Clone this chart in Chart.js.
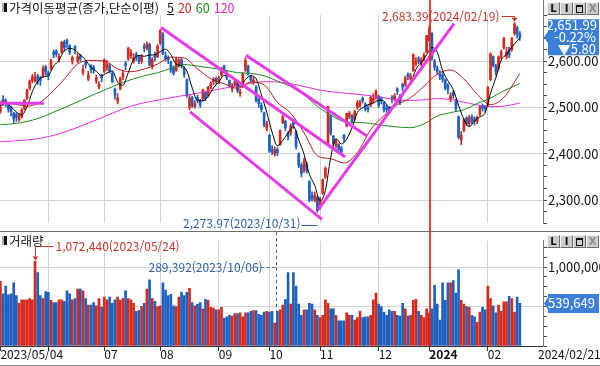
<!DOCTYPE html>
<html lang="ko">
<head>
<meta charset="utf-8">
<title>가격이동평균 / 거래량</title>
<script src="https://cdn.jsdelivr.net/npm/chart.js@4.4.1/dist/chart.umd.min.js"></script>
<style>
  html,body{margin:0;padding:0;background:#fff;}
  #wrap{position:relative;width:600px;height:366px;overflow:hidden;background:#fff;font-family:"Noto Sans CJK KR","Noto Sans",sans-serif;color:#111;}
  canvas{position:absolute;left:0;display:block;}
  #c1{top:0;}
  #c2{top:232px;}
  .hline{position:absolute;left:0;width:600px;height:1px;background:#6e6e6e;}
  .hdr{position:absolute;font-size:12.5px;line-height:15px;white-space:nowrap;}
  .ico{position:absolute;width:3px;height:9px;background:#111;border-left:2px solid #b0b0b0;}
  .btns{position:absolute;left:547px;display:flex;}
  .btn{width:11px;height:11px;border:1px solid #6a6a6a;border-top-color:#f2f2f2;border-left-color:#f2f2f2;background:#cdcdcd;font:bold 10px/11px "DejaVu Sans",sans-serif;text-align:center;color:#111;position:relative;}
  .btn .sq{position:absolute;left:2px;top:2px;width:5px;height:5px;border:1px solid #111;border-top-width:2px;}
  .lbl{position:absolute;font-size:12px;line-height:14px;white-space:nowrap;color:#111;}
  #yearLine{position:absolute;top:0;width:2px;height:346px;background:#e0231a;opacity:0.85;}
</style>
</head>
<body>
<div id="wrap">
  <canvas id="c1" width="600" height="232"></canvas>
  <canvas id="c2" width="600" height="134"></canvas>
  <div class="hline" style="top:231px"></div>
  <div class="hline" style="top:365px;background:#8a8a8a"></div>
  <div id="yearLine"></div>

  <div class="ico" style="left:2px;top:3px"></div>
  <div class="hdr" style="left:9px;top:0px">가격이동평균(종가,단순이평)<span style="margin-left:8px;text-decoration:underline">5</span><span style="margin-left:4px;color:#d2231b">20</span><span style="margin-left:4px;color:#168a16">60</span><span style="margin-left:4px;color:#d624d6">120</span></div>

  <div class="ico" style="left:2px;top:236px"></div>
  <div class="hdr" style="left:9px;top:233px">거래량</div>

  <div class="btns" style="top:2px"><div class="btn">L</div><div class="btn">I</div><div class="btn"><div class="sq"></div></div><div class="btn" style="color:#8a8a8a">X</div></div>
  <div class="btns" style="top:235px"><div class="btn">L</div><div class="btn">I</div><div class="btn"><div class="sq"></div></div><div class="btn" style="color:#8a8a8a">X</div></div>

  <div class="lbl" id="lastDate" style="left:538px;top:347px"></div>
</div>
<script>
// ---------------- DATA ----------------
const opens = [2492,2518,2515,2507,2499,2488,2485,2474,2480,2498,
2520,2542,2558,2559,2568,2565,2568,2588,2575,2584,
2620,2622,2603,2620,2641,2645,2634,2600,2632,2601,
2612,2576,2598,2562,2590,2587,2558,2545,2570,2578,
2586,2590,2574,2540,2514,2540,2566,2596,2605,2612,
2600,2615,2610,2600,2633,2628,2636,2588,2614,2610,
2640,2660,2612,2608,2598,2585,2580,2594,2604,2585,
2560,2500,2522,2502,2522,2514,2518,2532,2526,2545,
2556,2563,2556,2570,2590,2575,2558,2540,2550,2550,
2530,2545,2580,2590,2568,2555,2545,2518,2505,2488,
2455,2440,2410,2400,2410,2420,2468,2470,2445,2445,
2470,2448,2400,2375,2365,2378,2340,2310,2300,2305,
2285,2315,2350,2420,2480,2438,2418,2420,2412,2440,
2460,2480,2482,2475,2500,2505,2520,2508,2500,2505,
2514,2522,2525,2520,2510,2500,2498,2522,2518,2540,
2525,2550,2548,2572,2562,2580,2595,2606,2596,2604,
2620,2645,2660,2600,2584,2572,2570,2560,2548,2518,
2532,2515,2480,2430,2450,2478,2465,2480,2476,2470,
2485,2505,2502,2505,2560,2610,2590,2584,2610,2630,
2610,2625,2625,2660,2672,2660];
const highs = [2508,2526,2519,2510,2503,2490,2489,2487,2498,2517,
2540,2560,2572,2576,2572,2568,2590,2591,2580,2604,
2624,2625,2616,2643,2646,2648,2636,2612,2634,2618,
2615,2592,2602,2578,2593,2591,2570,2556,2572,2605,
2602,2596,2577,2542,2530,2566,2580,2600,2630,2625,
2616,2620,2613,2615,2638,2642,2640,2608,2620,2636,
2668,2662,2620,2612,2600,2590,2608,2606,2606,2588,
2562,2526,2525,2515,2527,2518,2540,2535,2546,2556,
2565,2566,2568,2587,2592,2578,2560,2552,2562,2552,
2540,2575,2608,2592,2570,2566,2547,2520,2510,2490,
2470,2442,2418,2415,2413,2452,2484,2473,2448,2465,
2475,2450,2402,2380,2390,2382,2342,2318,2318,2308,
2306,2346,2372,2502.4,2484,2440,2432,2422,2416,2442,
2488,2492,2485,2494,2515,2516,2523,2510,2504,2524,
2530,2538,2527,2523,2512,2505,2502,2526,2530,2543,
2528,2553,2568,2575,2574,2616,2608,2610,2608,2618,
2656,2676,2662,2604,2590,2580,2575,2562,2552,2532,
2536,2518,2482,2448,2476,2480,2483,2484,2480,2482,
2504,2508,2505,2546,2618,2612,2594,2612,2624,2652,
2630,2630,2652,2683.39,2676,2664];
const lows = [2488,2504,2502,2490,2482,2467,2470,2470,2477,2495,
2517,2538,2553,2555,2550,2548,2565,2570,2560,2580,
2608,2610,2598,2617,2622,2630,2614,2594,2616,2597,
2600,2570,2585,2558,2575,2574,2552,2540,2556,2575,
2580,2575,2553,2518,2508,2538,2560,2582,2602,2606,
2596,2602,2595,2595,2620,2624,2590,2583,2600,2608,
2636,2614,2600,2595,2576,2570,2578,2588,2585,2565,
2522,2495,2500,2498,2510,2500,2515,2515,2523,2540,
2550,2550,2552,2567,2578,2560,2545,2534,2546,2532,
2524,2543,2578,2570,2555,2550,2512,2500,2490,2458,
2450,2403,2398,2395,2396,2418,2465,2450,2430,2440,
2455,2410,2370,2350,2360,2358,2296,2298,2296,2273.97,
2280,2312,2346,2418,2440,2418,2412,2405,2398,2425,
2458,2476,2466,2472,2496,2500,2510,2492,2490,2502,
2510,2518,2500,2508,2490,2490,2488,2510,2514,2528,
2506,2536,2546,2560,2558,2578,2590,2595,2590,2600,
2618,2643,2602,2580,2572,2560,2555,2538,2530,2512,
2520,2492,2432,2420,2448,2460,2460,2465,2462,2465,
2482,2492,2490,2502,2558,2588,2570,2580,2605,2626,
2605,2608,2622,2656,2650,2645];
const closes = [2500.94,2509.53,2510.06,2496.51,2491.00,2475.42,2479.35,2480.24,2494.66,2515.32,
2537.79,2557.08,2566.59,2565.88,2554.69,2558.81,2585.52,2577.12,2569.17,2601.36,
2615.41,2615.60,2610.85,2641.16,2629.35,2637.95,2619.08,2608.54,2625.79,2609.50,
2604.91,2582.63,2592.61,2570.10,2582.20,2581.75,2564.19,2550.29,2564.28,2602.47,
2593.31,2579.00,2556.29,2526.71,2520.70,2562.49,2574.72,2591.19,2628.30,2619.00,
2607.46,2608.24,2599.51,2609.76,2628.97,2636.46,2592.36,2603.81,2608.32,2632.58,
2667.07,2616.47,2605.39,2602.80,2580.71,2573.98,2605.12,2601.56,2591.26,2570.87,
2525.64,2519.85,2504.50,2508.80,2515.63,2505.50,2537.68,2519.14,2543.41,2552.16,
2561.22,2556.27,2563.71,2584.55,2582.18,2563.34,2548.26,2547.68,2556.88,2536.58,
2534.70,2572.89,2601.28,2574.72,2559.74,2559.21,2514.97,2508.13,2495.76,2462.97,
2465.07,2405.69,2403.60,2408.73,2402.58,2450.08,2479.82,2456.15,2436.24,2460.28,
2462.60,2415.80,2375.00,2357.02,2383.51,2363.17,2299.08,2302.81,2310.55,2277.99,
2301.56,2343.12,2368.34,2502.37,2443.96,2421.62,2427.08,2409.66,2403.76,2433.25,
2486.67,2488.18,2469.85,2491.20,2510.42,2511.70,2514.96,2496.63,2495.66,2521.76,
2519.81,2535.29,2505.01,2514.95,2494.28,2495.38,2492.07,2517.85,2525.36,2535.27,
2510.66,2544.18,2563.56,2566.86,2568.55,2614.30,2600.02,2599.51,2602.59,2613.50,
2655.28,2669.81,2607.31,2587.02,2578.08,2567.82,2561.24,2541.98,2540.27,2525.05,
2525.99,2497.59,2435.90,2440.04,2472.74,2464.35,2478.61,2469.69,2470.34,2478.56,
2500.65,2498.81,2497.09,2542.46,2615.31,2591.31,2576.20,2609.58,2620.32,2649.64,
2620.42,2613.80,2648.76,2680.26,2657.79,2651.99];
const volumes = [820000,660000,760000,650000,660000,800000,640000,540000,585000,585000,
585000,600000,585000,1072440,930000,640000,600000,690000,680000,580000,
550000,550000,585000,585000,565000,700000,660000,585000,600000,720000,
720000,700000,600000,520000,520000,550000,510000,600000,490000,620000,
585000,620000,540000,585000,620000,580000,600000,700000,600000,585000,
540000,440000,450000,500000,540000,720000,840000,600000,565000,500000,
510000,800000,710000,640000,655000,510000,500000,620000,680000,640000,
680000,730000,550000,510000,530000,550000,470000,590000,580000,490000,
480000,460000,460000,490000,355000,370000,390000,380000,410000,410000,
420000,370000,420000,420000,440000,450000,450000,400000,390000,430000,
440000,430000,440000,289392,440000,460000,520000,590000,930000,530000,
930000,760000,530000,390000,460000,460000,540000,530000,460000,390000,
360000,390000,585000,540000,470000,470000,390000,320000,320000,320000,
420000,390000,390000,330000,360000,440000,360000,370000,370000,390000,
585000,670000,530000,500000,430000,390000,460000,440000,440000,390000,
380000,540000,470000,380000,390000,580000,590000,440000,390000,360000,
470000,420000,470000,770000,530000,330000,800000,580000,800000,800000,
830000,670000,967000,580000,530000,500000,490000,390000,370000,300000,
430000,490000,460000,760000,600000,510000,420000,520000,440000,560000,
560000,630000,600000,430000,620000,539649];

// moving averages: [bar index, value]
const ma5 = [[0,2504.5],[2,2508.9],[4,2501.6],[6,2490.5],[8,2484.1],[10,2501.5],[12,2534.3],[14,2556.4],[16,2566.3],[18,2569.1],
[20,2589.7],[22,2602.5],[24,2622.5],[26,2627.7],[28,2624.1],[30,2613.6],[32,2603.1],[34,2586.5],[36,2578.2],[38,2568.5],
[40,2574.9],[42,2579.1],[44,2555.2],[46,2548.2],[48,2575.5],[50,2604.1],[52,2612.5],[54,2610.8],[56,2613.4],[58,2614.0],
[60,2620.8],[62,2626.0],[64,2614.5],[66,2593.6],[68,2590.5],[70,2578.9],[72,2542.4],[74,2514.9],[76,2514.4],[78,2524.3],
[80,2542.7],[82,2555.4],[84,2569.6],[86,2568.4],[88,2559.7],[90,2544.8],[92,2560.5],[94,2568.7],[96,2562.0],[98,2527.6],
[100,2489.4],[102,2446.6],[104,2417.1],[106,2429.0],[108,2445.0],[110,2459.0],[112,2430.0],[114,2398.8],[116,2355.6],[118,2331.8],
[120,2298.4],[122,2320.3],[124,2391.9],[126,2432.7],[128,2421.2],[130,2432.1],[132,2456.3],[134,2489.3],[136,2499.6],[138,2505.9],
[140,2509.8],[142,2515.5],[144,2513.9],[146,2500.3],[148,2505.0],[150,2516.2],[152,2535.8],[154,2550.8],[156,2582.7],[158,2597.0],
[160,2614.2],[162,2629.7],[164,2619.5],[166,2580.3],[168,2557.9],[170,2538.9],[172,2505.0],[174,2474.5],[176,2458.3],[178,2471.1],
[180,2479.6],[182,2489.1],[184,2530.9],[186,2564.5],[188,2602.5],[190,2615.2],[192,2630.6],[194,2644.2],[195,2650.5]];
const ma20 = [[0,2514],[5,2508],[10,2503],[15,2512],[19,2531.4],[24,2561.6],[29,2594.4],[34,2601.9],[39,2600.4],[44,2583.6],
[49,2577.4],[54,2583.4],[59,2594.0],[64,2608.8],[69,2607.1],[74,2583.2],[79,2562.4],[84,2551.2],[89,2541.6],[94,2555.1],
[99,2549.3],[104,2511.1],[109,2487.6],[114,2445.2],[119,2395.8],[124,2389.5],[129,2380.1],[134,2402.7],[139,2452.1],[144,2482.6],
[149,2506.1],[154,2521.5],[159,2546.0],[164,2572.4],[169,2580.9],[174,2561.8],[179,2528.4],[184,2506.2],[189,2521.8],[194,2564.2],[195,2573.6]];
const ma60 = [[0,2463],[5,2465],[10,2470],[15,2478],[20,2490],[25,2502],[30,2515],[35,2528],[40,2540],[45,2552],
[50,2562],[55,2570],[59,2575.2],[64,2584.7],[69,2593.0],[74,2589.5],[79,2585.6],[84,2581.2],[89,2575.4],[94,2573.9],
[99,2568.5],[104,2557.0],[109,2545.5],[114,2527.8],[119,2502.5],[124,2483.9],[129,2469.8],[134,2467.7],[139,2465.7],[144,2461.1],
[149,2458.0],[154,2456.5],[159,2464.6],[164,2481.5],[169,2489.0],[174,2495.3],[179,2508.8],[184,2520.4],[189,2536.3],[194,2549.2],[195,2551.5]];
const ma120 = [[0,2426],[10,2430],[18,2437],[28,2455],[38,2478],[49,2503],[60,2517],[75,2532],[90,2548],[100,2556],
[106,2554],[112,2548],[119,2538.9],[124,2534.3],[129,2531.4],[134,2528.6],[139,2525.6],[144,2521.1],[149,2516.7],[154,2515.2],
[159,2516.6],[164,2519.2],[169,2517.3],[174,2511.6],[179,2505.6],[184,2502.2],[189,2503.0],[194,2508.4],[195,2509.6]];

// hand-drawn trend lines: [[x index, price],[x index, price]]
const trendLines = [
  [[-0.5,2509.2],[16.4,2509.2]],
  [[60.3,2673.0],[129.4,2393.1]],
  [[71.2,2490.5],[120.7,2258.3]],
  [[92.2,2612.9],[137.6,2438.7]],
  [[119.2,2279.0],[170.3,2681.3]]
];

const monthStartIdx = [18,39,60,82,101,120,142,161,183];
const monthLabels   = ['','07','08','09','10','11','12','2024','02'];
const firstDateLabel = '2023/05/04';
const lastDateLabel  = '2024/02/21';
const priceMajorTicks = [2300,2400,2500,2600];
const volMajorTicks   = [500000,1000000];
const hiIdx = 193, hiLabel = '2,683.39(2024/02/19)';
const loIdx = 119, loLabel = '2,273.97(2023/10/31)';
const vMaxIdx = 13, vMaxLabel = '1,072,440(2023/05/24)';
const vMinIdx = 103, vMinLabel = '289,392(2023/10/06)';

// ---------------- STYLE ----------------
const FONT = '"Noto Sans CJK KR","Noto Sans",sans-serif';
const UP = '#d5291d', DN = '#1d60bf';
const TREND = '#e63ce6';
const BOXBLUE = '#3c7fd9';
const ANNO_RED = '#c8372b', ANNO_BLUE = '#2d5fa8';
const GRID = '#d3d3d3';
const X_MIN = -0.15, X_MAX = 203.7;
const VOL_MAX = 1333333;

const N = closes.length;
const colors = closes.map((c,i)=> c >= opens[i] ? UP : DN);
const yearIdx = monthStartIdx[monthLabels.indexOf('2024')];
const fmt = (v,d)=> v.toLocaleString('en-US',{minimumFractionDigits:d,maximumFractionDigits:d});
document.getElementById('lastDate').textContent = lastDateLabel;

Chart.defaults.font.family = FONT;

function xScale(withLabels){
  return {
    type:'linear', min:X_MIN, max:X_MAX, offset:false,
    afterBuildTicks(s){ s.ticks = [0].concat(monthStartIdx).map(v=>({value:v})); },
    afterFit(s){ s.height = withLabels ? 20 : 0; },
    grid:{ offset:false, drawTicks:withLabels, tickLength:5, tickColor:'#333',
      color(c){ const v = c.tick && c.tick.value; return (v === 0 || v === yearIdx) ? 'rgba(0,0,0,0)' : GRID; } },
    border:{ display:withLabels, color:'#333' },
    ticks:{ display:withLabels, autoSkip:false, maxRotation:0, minRotation:0, align:'start', padding:-4, color:'#111',
      font(c){ return {family:FONT, size:12, weight:(c.tick && c.tick.value === yearIdx) ? 'bold' : 'normal'}; },
      callback(v){ if (v === 0) return firstDateLabel; const k = monthStartIdx.indexOf(v); return k >= 0 ? monthLabels[k] : ''; } }
  };
}

function maSet(pairs, color, order){
  return { type:'line', data:pairs.map(p=>({x:p[0], y:p[1]})), borderColor:color, borderWidth:1,
    pointRadius:0, cubicInterpolationMode:'monotone', order };
}

// ---------------- PRICE PANEL ----------------
const pricePlugin = {
  id:'priceAnno',
  afterDatasetsDraw(chart){
    const {ctx, scales:{x, y}, chartArea} = chart;
    ctx.save();
    ctx.strokeStyle = '#7a7a7a'; ctx.lineWidth = 1;
    ctx.beginPath(); ctx.moveTo(chartArea.right + 0.5, 0); ctx.lineTo(chartArea.right + 0.5, chartArea.top); ctx.stroke();

    ctx.font = '12px ' + FONT; ctx.textBaseline = 'middle';
    // highest
    const hx = Math.round(x.getPixelForValue(hiIdx)) + 0.5, hy = y.getPixelForValue(highs[hiIdx]);
    const ty = 16;
    ctx.fillStyle = ANNO_RED; ctx.strokeStyle = ANNO_RED; ctx.textAlign = 'right';
    ctx.fillText(hiLabel, hx - 15, ty);
    ctx.beginPath(); ctx.moveTo(hx - 13, ty + 0.5); ctx.lineTo(hx, ty + 0.5); ctx.lineTo(hx, hy - 3); ctx.stroke();
    ctx.beginPath(); ctx.moveTo(hx - 3, hy - 5); ctx.lineTo(hx + 3, hy - 5); ctx.lineTo(hx, hy - 1); ctx.closePath(); ctx.fill();
    // lowest
    const lx = Math.round(x.getPixelForValue(loIdx)) + 0.5;
    const lty = 223;
    ctx.fillStyle = ANNO_BLUE; ctx.strokeStyle = ANNO_BLUE;
    ctx.fillText(loLabel, lx - 17, lty);
    ctx.beginPath(); ctx.moveTo(lx - 16, lty + 2.5); ctx.lineTo(lx, lty + 2.5); ctx.stroke();

    // last price box
    const last = closes[N-1], prev = closes[N-2];
    const chg = last - prev, pct = chg / prev * 100;
    const by = y.getPixelForValue(last), L = chartArea.right;
    ctx.fillStyle = BOXBLUE;
    ctx.beginPath();
    ctx.moveTo(L + 5, by - 18); ctx.lineTo(599, by - 18); ctx.lineTo(599, by + 18); ctx.lineTo(L + 5, by + 18);
    ctx.lineTo(L + 5, by + 6); ctx.lineTo(L + 1, by); ctx.lineTo(L + 5, by - 6); ctx.closePath(); ctx.fill();
    ctx.fillStyle = '#fff'; ctx.font = '13px ' + FONT; ctx.textAlign = 'right';
    ctx.fillText(fmt(last,2), 597, by - 12);
    ctx.fillText((pct < 0 ? '-' : '+') + fmt(Math.abs(pct),2) + '%', 596, by);
    ctx.fillText((chg < 0 ? '▼' : '▲') + fmt(Math.abs(chg),2), 596, by + 12);
    ctx.restore();
  }
};

const priceChart = new Chart(document.getElementById('c1'), {
  type:'bar',
  data:{ datasets:[
    ...trendLines.map(seg=>({ type:'line', data:seg.map(p=>({x:p[0], y:p[1]})), borderColor:TREND, borderWidth:3, pointRadius:0, order:1 })),
    maSet(ma5,  '#000000', 2),
    maSet(ma20, '#b8201c', 3),
    maSet(ma60, '#1c8a1c', 4),
    maSet(ma120,'#e02ee0', 5),
    { type:'bar', data:closes.map((c,i)=>({x:i, y:[opens[i], c]})), backgroundColor:colors, barThickness:2, minBarLength:1, grouped:false, order:8 },
    { type:'bar', data:highs.map((h,i)=>({x:i, y:[lows[i], h]})), backgroundColor:colors, barThickness:1, grouped:false, order:9 }
  ]},
  options:{
    responsive:false, animation:false, devicePixelRatio:1, events:[],
    layout:{ padding:{top:15, left:0, right:0, bottom:0} },
    plugins:{ legend:{display:false}, tooltip:{enabled:false} },
    scales:{
      x: xScale(false),
      y:{ type:'linear', position:'right', min:2250, max:2700,
        afterBuildTicks(s){ const t = []; for (let v = 2250; v <= 2700; v += 25) t.push({value:v}); s.ticks = t; },
        afterFit(s){ s.width = 57; },
        grid:{ drawTicks:true, tickLength:4, tickColor:'#444', color(c){ return priceMajorTicks.includes(c.tick.value) ? GRID : 'rgba(0,0,0,0)'; } },
        border:{ color:'#7a7a7a' },
        ticks:{ padding:1, color:'#111', autoSkip:false, font:{family:FONT, size:13},
          callback(v){ return priceMajorTicks.includes(v) ? fmt(v,2) : ''; } } }
    }
  },
  plugins:[pricePlugin]
});

// red year divider positioned from the chart's own x scale
document.getElementById('yearLine').style.left = Math.round(priceChart.scales.x.getPixelForValue(yearIdx)) + 'px';

// ---------------- VOLUME PANEL ----------------
const volPlugin = {
  id:'volAnno',
  afterDatasetsDraw(chart){
    const {ctx, scales:{x, y}, chartArea} = chart;
    ctx.save();
    ctx.font = '12px ' + FONT; ctx.textBaseline = 'middle'; ctx.lineWidth = 1;
    // max volume
    const mx = Math.round(x.getPixelForValue(vMaxIdx)) + 0.5, my = y.getPixelForValue(volumes[vMaxIdx]);
    const mty = 14;
    ctx.fillStyle = ANNO_RED; ctx.strokeStyle = ANNO_RED; ctx.textAlign = 'left';
    ctx.fillText(vMaxLabel, mx + 20, mty);
    ctx.beginPath(); ctx.moveTo(mx + 18, mty + 0.5); ctx.lineTo(mx, mty + 0.5); ctx.lineTo(mx, my - 3); ctx.stroke();
    ctx.beginPath(); ctx.moveTo(mx - 3, my - 5); ctx.lineTo(mx + 3, my - 5); ctx.lineTo(mx, my - 1); ctx.closePath(); ctx.fill();
    // min volume
    const nx = Math.round(x.getPixelForValue(vMinIdx)) + 1.5;
    const nty = 35;
    ctx.fillStyle = ANNO_BLUE; ctx.strokeStyle = ANNO_BLUE;
    ctx.fillText(vMinLabel, nx - 128, nty);
    ctx.setLineDash([3,3]);
    ctx.beginPath(); ctx.moveTo(nx - 16, nty + 0.5); ctx.lineTo(nx, nty + 0.5); ctx.stroke();
    ctx.beginPath(); ctx.moveTo(nx, 0); ctx.lineTo(nx, chartArea.bottom); ctx.stroke();
    ctx.setLineDash([]);
    // last volume box
    const lv = volumes[N-1];
    const by = y.getPixelForValue(lv), L = chartArea.right;
    ctx.fillStyle = BOXBLUE;
    ctx.beginPath();
    ctx.moveTo(L + 5, by - 9.5); ctx.lineTo(599, by - 9.5); ctx.lineTo(599, by + 9.5); ctx.lineTo(L + 5, by + 9.5);
    ctx.lineTo(L + 5, by + 6); ctx.lineTo(L + 1, by); ctx.lineTo(L + 5, by - 6); ctx.closePath(); ctx.fill();
    ctx.fillStyle = '#fff'; ctx.font = '13px ' + FONT; ctx.textAlign = 'right';
    ctx.fillText(fmt(lv,0), 595, by);
    ctx.restore();
  }
};

new Chart(document.getElementById('c2'), {
  type:'bar',
  data:{ datasets:[
    { type:'bar', data:volumes.map((v,i)=>({x:i, y:v})), backgroundColor:colors, barThickness:2, grouped:false }
  ]},
  options:{
    responsive:false, animation:false, devicePixelRatio:1, events:[],
    layout:{ padding:0 },
    plugins:{ legend:{display:false}, tooltip:{enabled:false} },
    scales:{
      x: xScale(true),
      y:{ type:'linear', position:'right', min:0, max:VOL_MAX,
        afterBuildTicks(s){ const t = []; for (let v = 0; v <= 1250000; v += 125000) t.push({value:v}); s.ticks = t; },
        afterFit(s){ s.width = 57; },
        grid:{ drawTicks:true, tickLength:4, tickColor:'#444', color(c){ return volMajorTicks.includes(c.tick.value) ? GRID : 'rgba(0,0,0,0)'; } },
        border:{ color:'#7a7a7a' },
        ticks:{ padding:1, color:'#111', autoSkip:false, font:{family:FONT, size:13},
          callback(v){ return volMajorTicks.includes(v) ? fmt(v,0) : ''; } } }
    }
  },
  plugins:[volPlugin]
});
</script>
</body>
</html>
